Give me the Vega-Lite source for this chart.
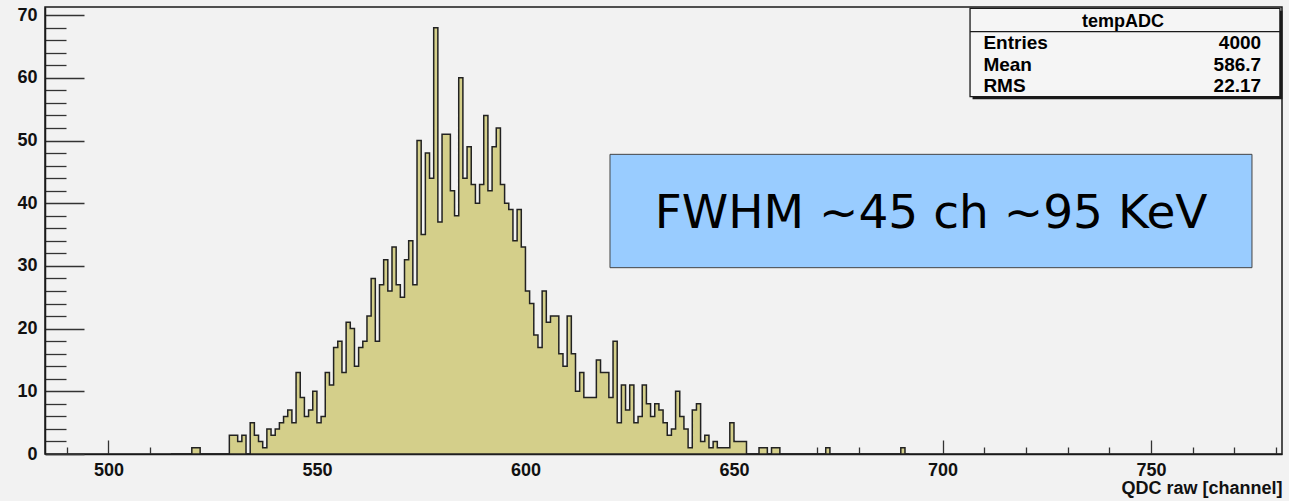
{
  "$schema": "https://vega.github.io/schema/vega-lite/v6.json",
  "width": 1237,
  "height": 447,
  "autosize": {"type": "none"},
  "padding": {"left": 45, "top": 7, "right": 7, "bottom": 47},
  "background": "#f2f2f2",
  "config": {
    "view": {"stroke": "#1a1a1a", "strokeWidth": 1.5, "fill": "#f2f2f2"},
    "font": "Liberation Sans"
  },
  "datasets": {
    "hist": [
      {"ch": 515, "n": 0}, {"ch": 516, "n": 0}, {"ch": 517, "n": 0}, {"ch": 518, "n": 0}, {"ch": 519, "n": 0},
      {"ch": 520, "n": 1}, {"ch": 521, "n": 1}, {"ch": 522, "n": 0}, {"ch": 523, "n": 0}, {"ch": 524, "n": 0},
      {"ch": 525, "n": 0}, {"ch": 526, "n": 0}, {"ch": 527, "n": 0}, {"ch": 528, "n": 0}, {"ch": 529, "n": 3},
      {"ch": 530, "n": 3}, {"ch": 531, "n": 2}, {"ch": 532, "n": 3}, {"ch": 533, "n": 0}, {"ch": 534, "n": 5},
      {"ch": 535, "n": 3}, {"ch": 536, "n": 2}, {"ch": 537, "n": 1}, {"ch": 538, "n": 4}, {"ch": 539, "n": 3},
      {"ch": 540, "n": 4}, {"ch": 541, "n": 5}, {"ch": 542, "n": 6}, {"ch": 543, "n": 7}, {"ch": 544, "n": 5},
      {"ch": 545, "n": 13}, {"ch": 546, "n": 9}, {"ch": 547, "n": 6}, {"ch": 548, "n": 7}, {"ch": 549, "n": 10},
      {"ch": 550, "n": 5}, {"ch": 551, "n": 6}, {"ch": 552, "n": 13}, {"ch": 553, "n": 11}, {"ch": 554, "n": 17},
      {"ch": 555, "n": 18}, {"ch": 556, "n": 13}, {"ch": 557, "n": 21}, {"ch": 558, "n": 20}, {"ch": 559, "n": 14},
      {"ch": 560, "n": 17}, {"ch": 561, "n": 18}, {"ch": 562, "n": 22}, {"ch": 563, "n": 28}, {"ch": 564, "n": 18},
      {"ch": 565, "n": 27}, {"ch": 566, "n": 31}, {"ch": 567, "n": 26}, {"ch": 568, "n": 33}, {"ch": 569, "n": 27},
      {"ch": 570, "n": 25}, {"ch": 571, "n": 31}, {"ch": 572, "n": 34}, {"ch": 573, "n": 27}, {"ch": 574, "n": 50},
      {"ch": 575, "n": 35}, {"ch": 576, "n": 48}, {"ch": 577, "n": 44}, {"ch": 578, "n": 68}, {"ch": 579, "n": 37},
      {"ch": 580, "n": 51}, {"ch": 581, "n": 51}, {"ch": 582, "n": 42}, {"ch": 583, "n": 38}, {"ch": 584, "n": 60},
      {"ch": 585, "n": 44}, {"ch": 586, "n": 49}, {"ch": 587, "n": 43}, {"ch": 588, "n": 40}, {"ch": 589, "n": 43},
      {"ch": 590, "n": 54}, {"ch": 591, "n": 42}, {"ch": 592, "n": 49}, {"ch": 593, "n": 52}, {"ch": 594, "n": 43},
      {"ch": 595, "n": 40}, {"ch": 596, "n": 39}, {"ch": 597, "n": 34}, {"ch": 598, "n": 39}, {"ch": 599, "n": 33},
      {"ch": 600, "n": 26}, {"ch": 601, "n": 24}, {"ch": 602, "n": 19}, {"ch": 603, "n": 17}, {"ch": 604, "n": 26},
      {"ch": 605, "n": 21}, {"ch": 606, "n": 22}, {"ch": 607, "n": 22}, {"ch": 608, "n": 16}, {"ch": 609, "n": 14},
      {"ch": 610, "n": 22}, {"ch": 611, "n": 16}, {"ch": 612, "n": 10}, {"ch": 613, "n": 13}, {"ch": 614, "n": 9},
      {"ch": 615, "n": 9}, {"ch": 616, "n": 9}, {"ch": 617, "n": 15}, {"ch": 618, "n": 13}, {"ch": 619, "n": 13},
      {"ch": 620, "n": 9}, {"ch": 621, "n": 18}, {"ch": 622, "n": 5}, {"ch": 623, "n": 11}, {"ch": 624, "n": 7},
      {"ch": 625, "n": 11}, {"ch": 626, "n": 5}, {"ch": 627, "n": 6}, {"ch": 628, "n": 11}, {"ch": 629, "n": 8},
      {"ch": 630, "n": 6}, {"ch": 631, "n": 8}, {"ch": 632, "n": 7}, {"ch": 633, "n": 5}, {"ch": 634, "n": 3},
      {"ch": 635, "n": 4}, {"ch": 636, "n": 10}, {"ch": 637, "n": 6}, {"ch": 638, "n": 4}, {"ch": 639, "n": 1},
      {"ch": 640, "n": 7}, {"ch": 641, "n": 8}, {"ch": 642, "n": 2}, {"ch": 643, "n": 3}, {"ch": 644, "n": 1},
      {"ch": 645, "n": 2}, {"ch": 646, "n": 1}, {"ch": 647, "n": 1}, {"ch": 648, "n": 1}, {"ch": 649, "n": 5},
      {"ch": 650, "n": 2}, {"ch": 651, "n": 2}, {"ch": 652, "n": 2}, {"ch": 653, "n": 0}, {"ch": 654, "n": 0},
      {"ch": 655, "n": 0}, {"ch": 656, "n": 1}, {"ch": 657, "n": 1}, {"ch": 658, "n": 0}, {"ch": 659, "n": 1},
      {"ch": 660, "n": 1}, {"ch": 661, "n": 0}, {"ch": 662, "n": 0}, {"ch": 663, "n": 0}, {"ch": 664, "n": 0},
      {"ch": 665, "n": 0}, {"ch": 666, "n": 0}, {"ch": 667, "n": 0}, {"ch": 668, "n": 0}, {"ch": 669, "n": 0},
      {"ch": 670, "n": 0}, {"ch": 671, "n": 0}, {"ch": 672, "n": 1}, {"ch": 673, "n": 0}, {"ch": 674, "n": 0},
      {"ch": 675, "n": 0}, {"ch": 676, "n": 0}, {"ch": 677, "n": 0}, {"ch": 678, "n": 0}, {"ch": 679, "n": 0},
      {"ch": 680, "n": 0}, {"ch": 681, "n": 0}, {"ch": 682, "n": 0}, {"ch": 683, "n": 0}, {"ch": 684, "n": 0},
      {"ch": 685, "n": 0}, {"ch": 686, "n": 0}, {"ch": 687, "n": 0}, {"ch": 688, "n": 0}, {"ch": 689, "n": 0},
      {"ch": 690, "n": 1}, {"ch": 691, "n": 0}, {"ch": 692, "n": 0}
    ],
    "note": [{"text": "FWHM ~45 ch ~95 KeV"}],
    "statsTitle": [{"title": "tempADC"}],
    "stats": [
      {"stat": "Entries", "value": "4000"},
      {"stat": "Mean", "value": "586.7"},
      {"stat": "RMS", "value": "22.17"}
    ]
  },
  "layer": [
    {
      "data": {"name": "hist"},
      "mark": {"type": "area", "interpolate": "step-after", "fill": "#d4cf8a", "stroke": "#222222", "strokeWidth": 1.5},
      "encoding": {
        "x": {
          "field": "ch", "type": "quantitative",
          "scale": {"domain": [484.8, 781.4], "nice": false, "zero": false},
          "axis": {
            "title": "QDC raw [channel]",
            "values": [490, 500, 510, 520, 530, 540, 550, 560, 570, 580, 590, 600, 610, 620, 630, 640, 650, 660, 670, 680, 690, 700, 710, 720, 730, 740, 750, 760, 770, 780],
            "tickCount": 200,
            "format": "d",
            "labelExpr": "datum.value % 50 === 0 ? datum.label : ''",
            "tickSize": {"condition": {"test": "datum.value % 50 === 0", "value": -14}, "value": -7},
            "tickColor": "#333333", "tickWidth": 1.3,
            "domainColor": "#1a1a1a", "domainWidth": 1.5,
            "grid": false,
            "labelFont": "Liberation Sans", "labelFontWeight": "bold", "labelFontSize": 18, "labelColor": "#111111",
            "labelPadding": 21, "labelFlush": false, "labelOverlap": false,
            "titleFont": "Liberation Sans", "titleFontWeight": "bold", "titleFontSize": 18, "titleColor": "#111111",
            "titleAnchor": "end", "titlePadding": -7
          }
        },
        "y": {
          "field": "n", "type": "quantitative",
          "scale": {"domain": [0, 71.3], "nice": false},
          "axis": {
            "title": null,
            "values": [0, 2, 4, 6, 8, 10, 12, 14, 16, 18, 20, 22, 24, 26, 28, 30, 32, 34, 36, 38, 40, 42, 44, 46, 48, 50, 52, 54, 56, 58, 60, 62, 64, 66, 68, 70],
            "tickCount": 200,
            "format": "d",
            "labelExpr": "datum.value % 10 === 0 ? datum.label : ''",
            "tickSize": {"condition": {"test": "datum.value % 10 === 0", "value": -39}, "value": -21},
            "tickColor": "#333333", "tickWidth": 1.3,
            "domainColor": "#1a1a1a", "domainWidth": 1.5,
            "grid": false,
            "labelFont": "Liberation Sans", "labelFontWeight": "bold", "labelFontSize": 18, "labelColor": "#111111",
            "labelPadding": 47, "labelFlush": false, "labelOverlap": false
          }
        }
      }
    },
    {
      "data": {"name": "note"},
      "mark": {"type": "rect", "fill": "#99ccff", "stroke": "#444444", "strokeWidth": 1},
      "encoding": {
        "x": {"datum": 620.27, "type": "quantitative"},
        "x2": {"datum": 774.2},
        "y": {"datum": 47.8, "type": "quantitative"},
        "y2": {"datum": 29.72}
      }
    },
    {
      "data": {"name": "note"},
      "mark": {"type": "text", "font": "DejaVu Sans", "fontSize": 47, "align": "left", "baseline": "alphabetic", "color": "#000000"},
      "encoding": {
        "x": {"datum": 631.0, "type": "quantitative"},
        "y": {"datum": 36.1, "type": "quantitative"},
        "text": {"field": "text"}
      }
    },
    {
      "data": {"name": "statsTitle"},
      "mark": {"type": "rect", "fill": "#1a1a1a", "clip": false},
      "encoding": {
        "x": {"datum": 707.2, "type": "quantitative"},
        "x2": {"datum": 781.5},
        "y": {"datum": 70.7, "type": "quantitative"},
        "y2": {"datum": 56.6}
      }
    },
    {
      "data": {"name": "statsTitle"},
      "mark": {"type": "rect", "fill": "#f5f5f5", "stroke": "#1a1a1a", "strokeWidth": 1.3},
      "encoding": {
        "x": {"datum": 706.6, "type": "quantitative"},
        "x2": {"datum": 780.9},
        "y": {"datum": 71.09, "type": "quantitative"},
        "y2": {"datum": 56.99}
      }
    },
    {
      "data": {"name": "statsTitle"},
      "mark": {"type": "rule", "stroke": "#1a1a1a", "strokeWidth": 1.3},
      "encoding": {
        "x": {"datum": 706.6, "type": "quantitative"},
        "x2": {"datum": 780.9},
        "y": {"datum": 67.36, "type": "quantitative"}
      }
    },
    {
      "data": {"name": "statsTitle"},
      "mark": {"type": "text", "font": "Liberation Sans", "fontWeight": "bold", "fontSize": 18, "align": "center", "baseline": "alphabetic", "color": "#000000"},
      "encoding": {
        "x": {"datum": 743.3, "type": "quantitative"},
        "y": {"datum": 68.16, "type": "quantitative"},
        "text": {"field": "title"}
      }
    },
    {
      "data": {"name": "stats"},
      "transform": [{"filter": "datum.stat === 'Entries'"}],
      "mark": {"type": "text", "font": "Liberation Sans", "fontWeight": "bold", "fontSize": 19, "align": "left", "baseline": "alphabetic", "color": "#000000"},
      "encoding": {
        "x": {"datum": 709.8, "type": "quantitative"},
        "y": {"datum": 64.6, "type": "quantitative"},
        "text": {"field": "stat"}
      }
    },
    {
      "data": {"name": "stats"},
      "transform": [{"filter": "datum.stat === 'Entries'"}],
      "mark": {"type": "text", "font": "Liberation Sans", "fontWeight": "bold", "fontSize": 19, "align": "right", "baseline": "alphabetic", "color": "#000000"},
      "encoding": {
        "x": {"datum": 776.4, "type": "quantitative"},
        "y": {"datum": 64.6, "type": "quantitative"},
        "text": {"field": "value"}
      }
    },
    {
      "data": {"name": "stats"},
      "transform": [{"filter": "datum.stat === 'Mean'"}],
      "mark": {"type": "text", "font": "Liberation Sans", "fontWeight": "bold", "fontSize": 19, "align": "left", "baseline": "alphabetic", "color": "#000000"},
      "encoding": {
        "x": {"datum": 709.8, "type": "quantitative"},
        "y": {"datum": 61.14, "type": "quantitative"},
        "text": {"field": "stat"}
      }
    },
    {
      "data": {"name": "stats"},
      "transform": [{"filter": "datum.stat === 'Mean'"}],
      "mark": {"type": "text", "font": "Liberation Sans", "fontWeight": "bold", "fontSize": 19, "align": "right", "baseline": "alphabetic", "color": "#000000"},
      "encoding": {
        "x": {"datum": 776.4, "type": "quantitative"},
        "y": {"datum": 61.14, "type": "quantitative"},
        "text": {"field": "value"}
      }
    },
    {
      "data": {"name": "stats"},
      "transform": [{"filter": "datum.stat === 'RMS'"}],
      "mark": {"type": "text", "font": "Liberation Sans", "fontWeight": "bold", "fontSize": 19, "align": "left", "baseline": "alphabetic", "color": "#000000"},
      "encoding": {
        "x": {"datum": 709.8, "type": "quantitative"},
        "y": {"datum": 57.79, "type": "quantitative"},
        "text": {"field": "stat"}
      }
    },
    {
      "data": {"name": "stats"},
      "transform": [{"filter": "datum.stat === 'RMS'"}],
      "mark": {"type": "text", "font": "Liberation Sans", "fontWeight": "bold", "fontSize": 19, "align": "right", "baseline": "alphabetic", "color": "#000000"},
      "encoding": {
        "x": {"datum": 776.4, "type": "quantitative"},
        "y": {"datum": 57.79, "type": "quantitative"},
        "text": {"field": "value"}
      }
    }
  ]
}
